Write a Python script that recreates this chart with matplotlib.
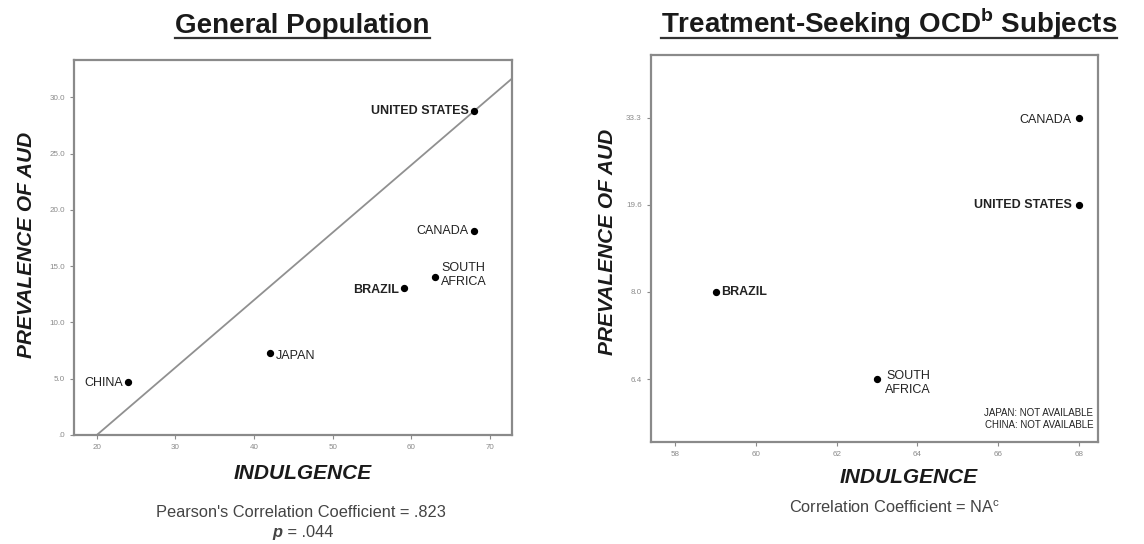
import matplotlib
matplotlib.use("Agg")
import matplotlib.pyplot as plt
from matplotlib.lines import Line2D

plt.rcParams['font.family'] = ['Liberation Sans', 'DejaVu Sans']
plt.rcParams['mathtext.fontset'] = 'custom'
plt.rcParams['mathtext.rm'] = 'Liberation Sans'
plt.rcParams['mathtext.bf'] = 'Liberation Sans:bold'

# general population
gp_countries = ['UNITED STATES', 'CANADA', 'SOUTH\nAFRICA', 'BRAZIL', 'JAPAN', 'CHINA']
gp_indulgence = [68, 68, 63, 59, 42, 24]
gp_aud = [28.8, 18.1, 14.0, 13.1, 7.3, 4.7]
gp_line_x = [20, 73]
gp_line_y = [0, 31.8]

# treatment-seeking OCD subjects (ordinal y axis)
ocd_countries = ['CANADA', 'UNITED STATES', 'BRAZIL', 'SOUTH\nAFRICA']
ocd_indulgence = [68, 68, 59, 63]
ocd_aud = ['33.3', '19.6', '8.0', '6.4']
ocd_levels = ['6.4', '8.0', '19.6', '33.3']

grey = '#8a8a8a'
fig = plt.figure(figsize=(11.44, 5.44), dpi=100)
ax1 = fig.add_axes([0.0647, 0.2004, 0.383, 0.689])
ax2 = fig.add_axes([0.569, 0.188, 0.3907, 0.711])

for ax in (ax1, ax2):
    for s in ax.spines.values():
        s.set_color(grey)
        s.set_linewidth(1.6)
    ax.tick_params(colors=grey, labelsize=5.8, length=3, width=0.8)

# left panel
ax1.plot(gp_line_x, gp_line_y, color='#909090', lw=1.3)
ax1.scatter(gp_indulgence, gp_aud, s=18, color='black', zorder=3)
ax1.set_xlim(17.1, 72.8)
ax1.set_ylim(0, 33.3)
ax1.set_xticks([20, 30, 40, 50, 60, 70])
ax1.set_yticks([0, 5, 10, 15, 20, 25, 30])
ax1.set_yticklabels(['.0', '5.0', '10.0', '15.0', '20.0', '25.0', '30.0'])

# (offset x, offset y, ha, bold)
gp_style = {
    'UNITED STATES': (-4, 0, 'right', True),
    'CANADA': (-4, 0, 'right', False),
    'SOUTH\nAFRICA': (4, 2, 'left', False),
    'BRAZIL': (-3, -2, 'right', True),
    'JAPAN': (4, -2, 'left', False),
    'CHINA': (-4, -1, 'right', False),
}
for name, x, y in zip(gp_countries, gp_indulgence, gp_aud):
    dx, dy, ha, bold = gp_style[name]
    ax1.annotate(name, (x, y), xytext=(dx, dy), textcoords='offset points',
                 ha=ha, va='center', fontsize=9, multialignment='center',
                 fontweight='bold' if bold else 'normal', color='#222222')

# right panel
ocd_pos = [ocd_levels.index(v) for v in ocd_aud]
ax2.scatter(ocd_indulgence, ocd_pos, s=18, color='black', zorder=3)
ax2.set_xlim(57.4, 68.47)
ax2.set_ylim(-0.72, 3.72)
ax2.set_xticks([58, 60, 62, 64, 66, 68])
ax2.set_yticks(range(len(ocd_levels)))
ax2.set_yticklabels(ocd_levels)

ocd_style = {
    'CANADA': (-5, -2, 'right', False),
    'UNITED STATES': (-5, 0, 'right', True),
    'BRAZIL': (4, 0, 'left', True),
    'SOUTH\nAFRICA': (6, -3, 'left', False),
}
for name, x, y in zip(ocd_countries, ocd_indulgence, ocd_pos):
    dx, dy, ha, bold = ocd_style[name]
    ax2.annotate(name, (x, y), xytext=(dx, dy), textcoords='offset points',
                 ha=ha, va='center', fontsize=9, multialignment='center',
                 fontweight='bold' if bold else 'normal', color='#222222')

ax2.text(0.99, 0.03, 'JAPAN: NOT AVAILABLE\nCHINA: NOT AVAILABLE',
         transform=ax2.transAxes, ha='right', va='bottom', fontsize=7,
         linespacing=1.3, color='#222222')

# axis labels
lab = dict(fontsize=15, fontweight='bold', fontstyle='italic', color='#1a1a1a')
fig.text(0.023, 0.55, 'PREVALENCE OF AUD', rotation=90, ha='center', va='center', **lab)
fig.text(0.531, 0.555, 'PREVALENCE OF AUD', rotation=90, ha='center', va='center', **lab)
fig.text(0.265, 0.129, 'INDULGENCE', ha='center', va='center', **lab)
fig.text(0.7946, 0.123, 'INDULGENCE', ha='center', va='center', **lab)

# captions
cap = dict(fontsize=11.8, color='#444444', va='center')
fig.text(0.263, 0.057, "Pearson's Correlation Coefficient = .823", ha='center', **cap)
fig.text(0.247, 0.022, "p", ha='right', fontweight='bold', fontstyle='italic', **cap)
fig.text(0.247, 0.022, " = .044", ha='left', **cap)
fig.text(0.782, 0.066, r"Correlation Coefficient = NA$^\mathrm{c}$", ha='center', **cap)

# underlined titles
t1 = fig.text(0.2644, 0.939, 'General Population', ha='center', va='baseline',
              fontsize=20, fontweight='bold', color='#1a1a1a')
t2 = fig.text(0.777, 0.939, r'Treatment-Seeking OCD$^\mathbf{b}$ Subjects', ha='center',
              va='baseline', fontsize=20, fontweight='bold', color='#1a1a1a')
fig.canvas.draw()
inv = fig.transFigure.inverted()
for t in (t1, t2):
    bb = t.get_window_extent().transformed(inv)
    fig.add_artist(Line2D([bb.x0, bb.x1], [0.931, 0.931],
                          transform=fig.transFigure, color='#333333', lw=1.6))

fig.savefig('out.png', dpi=100)
